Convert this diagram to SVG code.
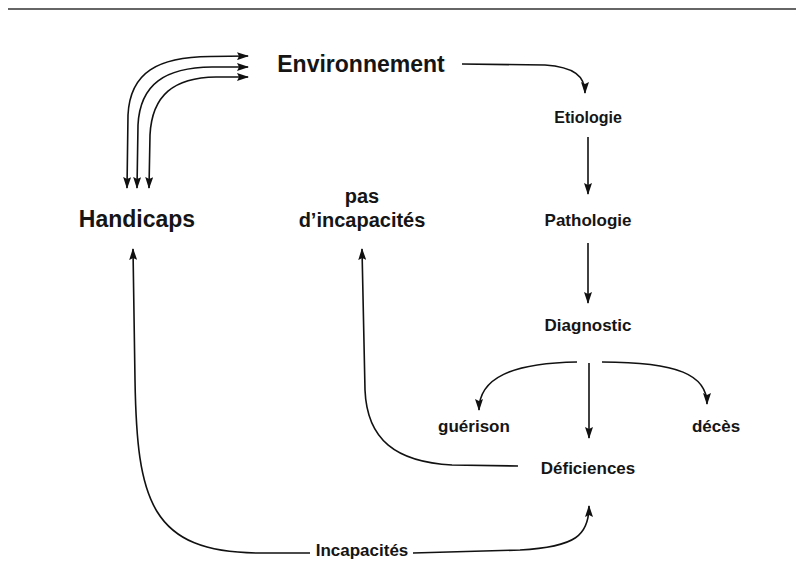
<svg xmlns="http://www.w3.org/2000/svg" width="796" height="581" viewBox="0 0 796 581">
<style>
  text { font-family: "Liberation Sans", Arial, Helvetica, sans-serif; font-weight: bold; fill: #151515; text-anchor: middle; }
  .big { font-size: 23px; }
  .mid { font-size: 20px; }
  .small { font-size: 17px; }
  .tiny { font-size: 16px; }
  .conn path { fill: none; stroke: #111; stroke-width: 1.6; }
  .arr { marker-end: url(#ah); }
  .both { marker-end: url(#ah); marker-start: url(#ah); }
</style>
<defs>
  <marker id="ah" viewBox="0 0 12 8" refX="11" refY="4" markerWidth="12" markerHeight="8" markerUnits="userSpaceOnUse" orient="auto-start-reverse">
    <path d="M0,0 L12,4 L0,8 L2,4 Z" fill="#111"/>
  </marker>
</defs>
<rect width="796" height="581" fill="#fff"/>
<line x1="8" y1="9" x2="796" y2="9" stroke="#333" stroke-width="1.6"/>

<g id="environnement"><text class="big" x="361" y="72">Environnement</text></g>
<g id="etiologie"><text class="tiny" x="588" y="123">Etiologie</text></g>
<g id="pathologie"><text class="small" x="588" y="226">Pathologie</text></g>
<g id="diagnostic"><text class="small" x="588" y="331">Diagnostic</text></g>
<g id="guerison"><text class="small" x="474" y="432">guérison</text></g>
<g id="deces"><text class="small" x="716" y="432">décès</text></g>
<g id="deficiences"><text class="small" x="588" y="474">Déficiences</text></g>
<g id="handicaps"><text class="big" x="137" y="227">Handicaps</text></g>
<g id="pas-incapacites"><text class="mid" x="362" y="203">pas</text><text class="mid" x="362" y="227">d’incapacités</text></g>
<g id="incapacites"><text class="small" x="362" y="556">Incapacités</text></g>

<g id="connectors" class="conn">
  <path class="both" d="M127,188 L128,115 C130,72 158,57 210,56.5 L248,56"/>
  <path class="both" d="M137,188 L138,125 C140,84 165,67.5 212,67 L248,67"/>
  <path class="both" d="M149,188 L150,135 C152,95 174,77.5 216,77 L248,77"/>
  <path class="arr" d="M462,64 L545,65 C574,67 585,76 585,93"/>
  <path class="arr" d="M588,137 L588,194"/>
  <path class="arr" d="M588,243 L588,303"/>
  <path class="arr" d="M577,362 C512,363 479,378 479,410"/>
  <path class="arr" d="M589,363 L589,438"/>
  <path class="arr" d="M602,362 C678,362 707,375 707,404"/>
  <path class="arr" d="M518,466 L452,465 C396,462 367,440 365,390 L362,249"/>
  <path class="arr" d="M310,553 L260,553 C150,553 137,500 135,380 L133,249"/>
  <path class="arr" d="M413,553 L520,550 C576,547 589,535 589,506"/>
</g>
</svg>
